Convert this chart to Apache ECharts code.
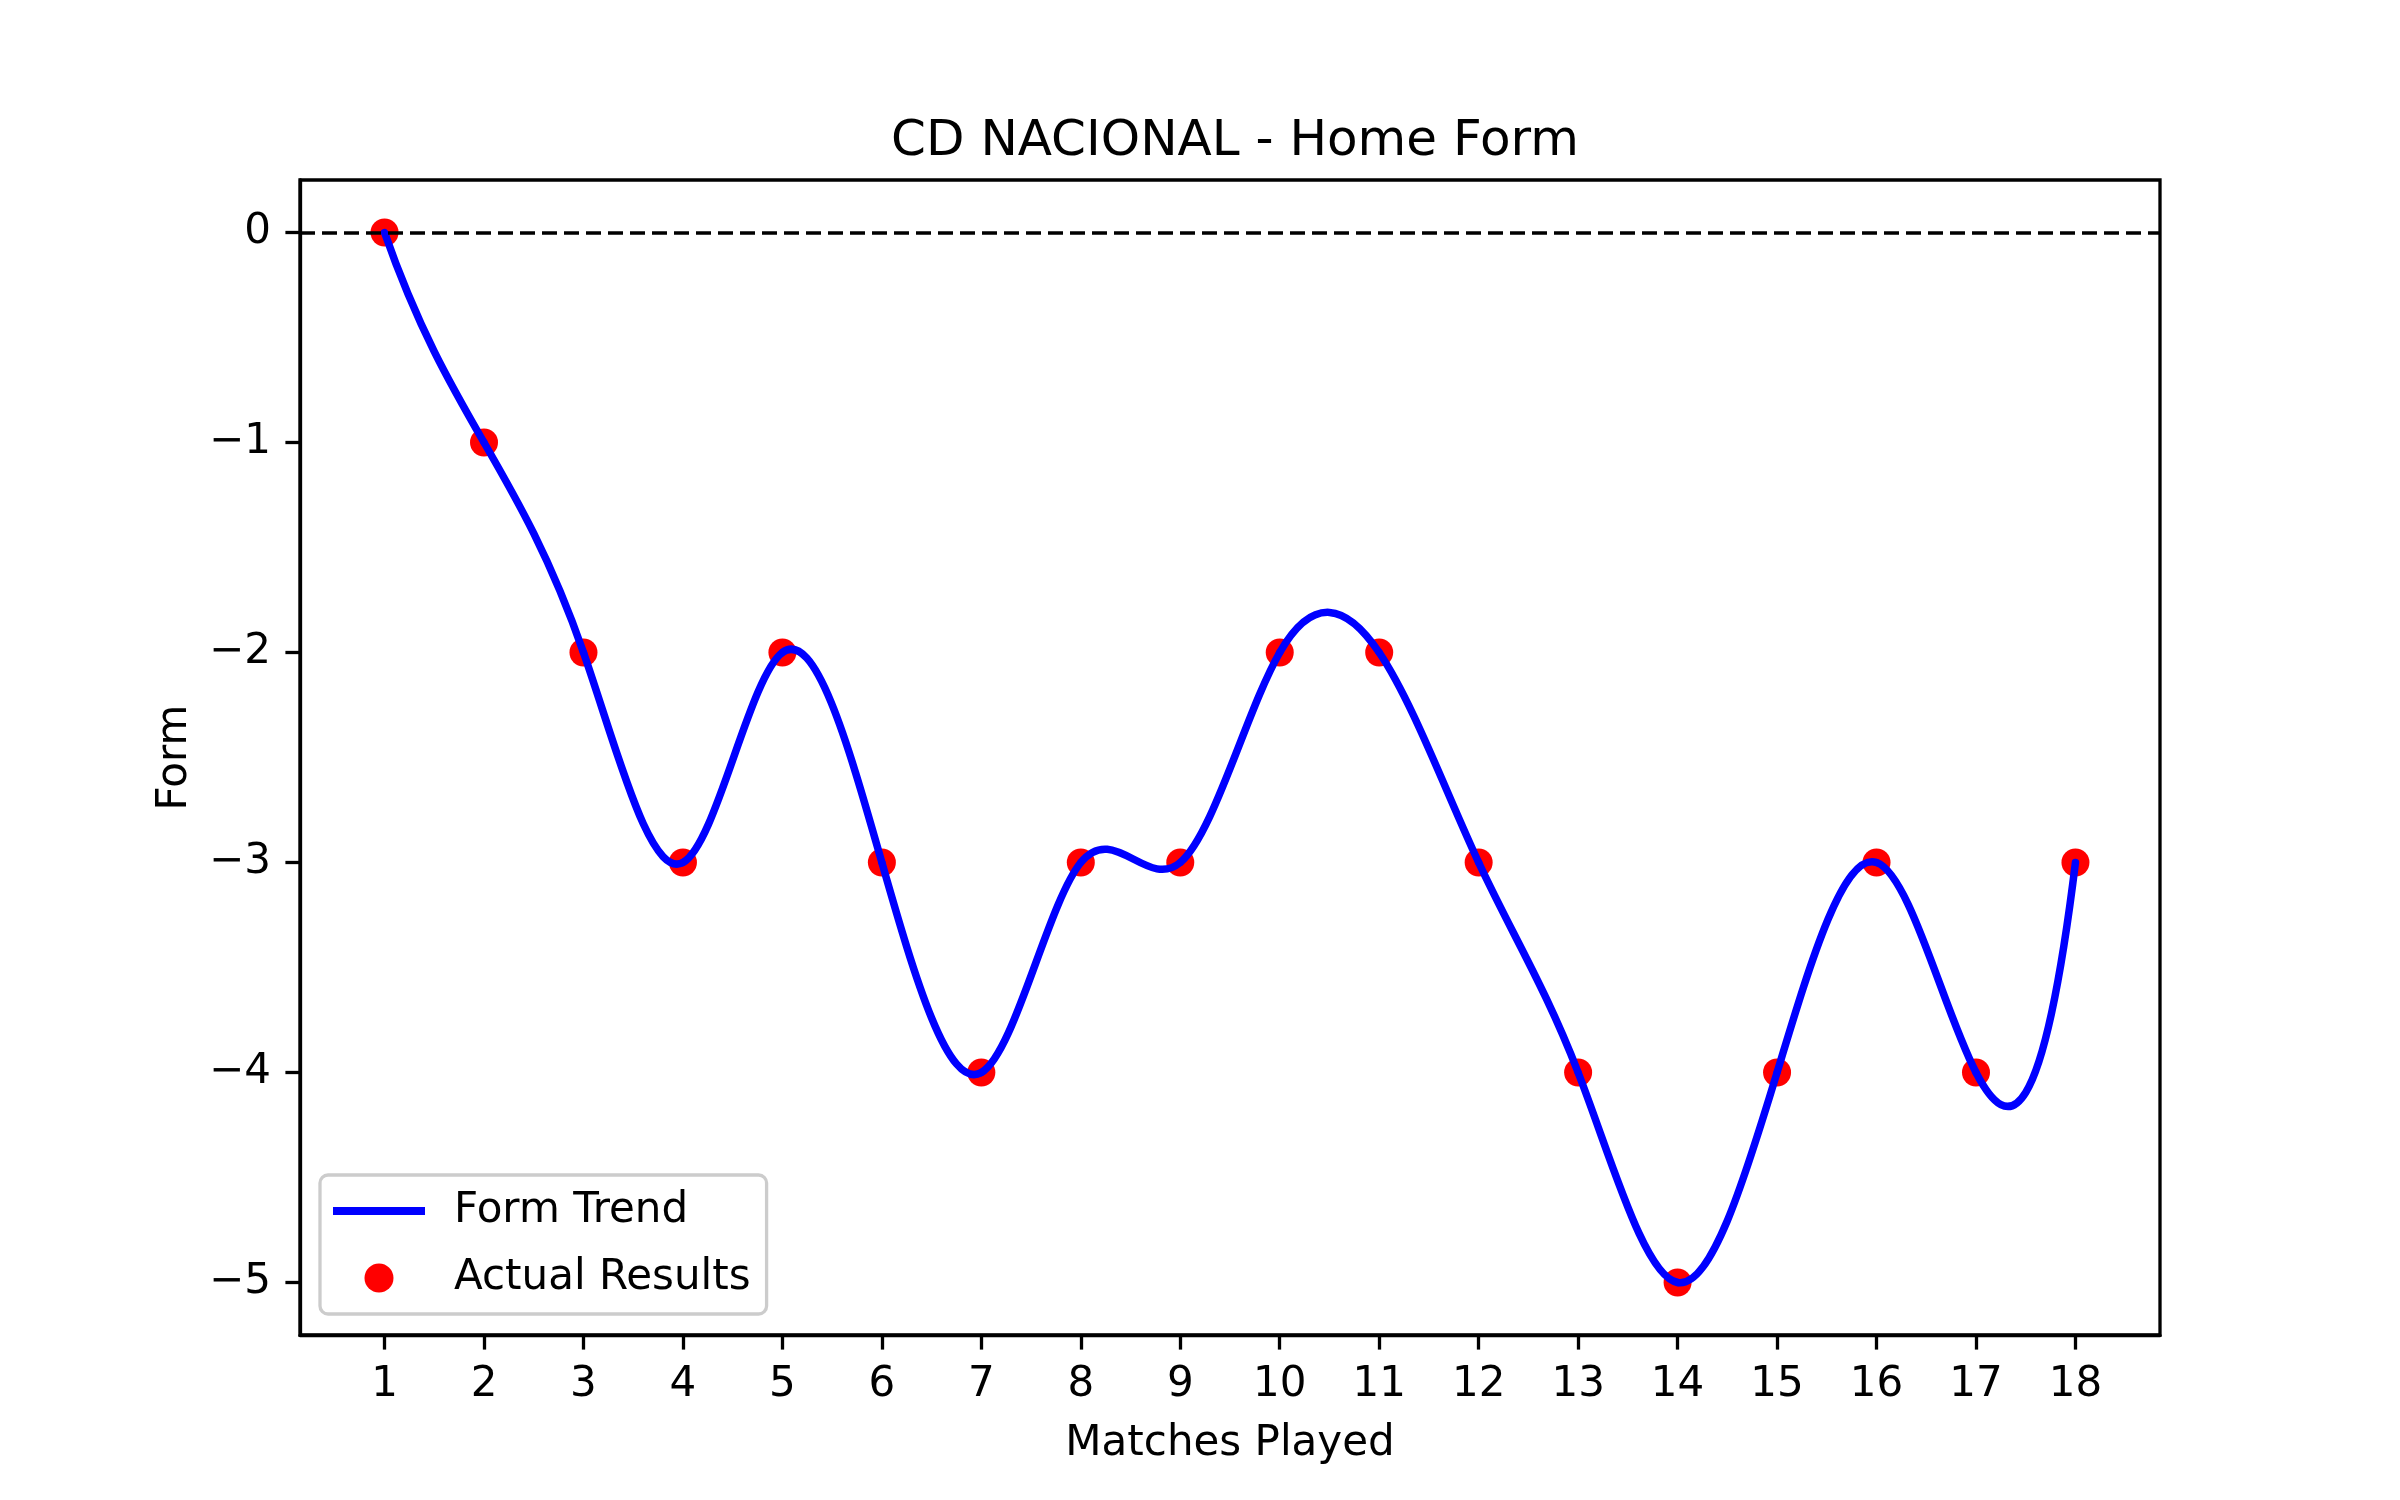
<!DOCTYPE html>
<html>
<head>
<meta charset="utf-8">
<title>CD NACIONAL - Home Form</title>
<script src="https://cdn.jsdelivr.net/npm/echarts@6/dist/echarts.min.js"></script>
<style>
  html, body { margin: 0; padding: 0; background: #fff; }
  #chart { width: 2400px; height: 1500px; }
</style>
</head>
<body>
<div id="chart"></div>
<script>
// matches and form values
var matches = [1, 2, 3, 4, 5, 6, 7, 8, 9, 10, 11, 12, 13, 14, 15, 16, 17, 18]
var formValues = [0, -1, -2, -3, -2, -3, -4, -3, -3, -2, -2, -3, -4, -5, -4, -3, -4, -3]
var xTicks = [1, 2, 3, 4, 5, 6, 7, 8, 9, 10, 11, 12, 13, 14, 15, 16, 17, 18]
var yTicks = [-5, -4, -3, -2, -1, 0]

var font = 'DejaVu Sans'
var points = matches.map(function (m, i) { return [m, formValues[i]] })

// slopes of a not-a-knot cubic spline through the points (the trend line),
// so each piece can be drawn as one bezier segment through the axes
function splineSlopes(xs, ys) {
  var n = xs.length
  var A = []
  var b = []
  for (var r = 0; r < n; r++) {
    A.push(new Array(n).fill(0))
    b.push(0)
  }
  A[0][0] = 1; A[0][1] = -2; A[0][2] = 1
  A[n - 1][n - 3] = 1; A[n - 1][n - 2] = -2; A[n - 1][n - 1] = 1
  for (var i = 1; i < n - 1; i++) {
    var h0 = xs[i] - xs[i - 1]
    var h1 = xs[i + 1] - xs[i]
    A[i][i - 1] = h0
    A[i][i] = 2 * (h0 + h1)
    A[i][i + 1] = h1
    b[i] = 6 * ((ys[i + 1] - ys[i]) / h1 - (ys[i] - ys[i - 1]) / h0)
  }
  // gaussian elimination
  for (var c = 0; c < n; c++) {
    var p = c
    for (var k = c + 1; k < n; k++) {
      if (Math.abs(A[k][c]) > Math.abs(A[p][c])) p = k
    }
    var t = A[c]; A[c] = A[p]; A[p] = t
    var tb = b[c]; b[c] = b[p]; b[p] = tb
    for (var k2 = c + 1; k2 < n; k2++) {
      var f = A[k2][c] / A[c][c]
      if (!f) continue
      for (var j = c; j < n; j++) A[k2][j] -= f * A[c][j]
      b[k2] -= f * b[c]
    }
  }
  var M = new Array(n).fill(0)
  for (var r2 = n - 1; r2 >= 0; r2--) {
    var s = b[r2]
    for (var j2 = r2 + 1; j2 < n; j2++) s -= A[r2][j2] * M[j2]
    M[r2] = s / A[r2][r2]
  }
  var d = []
  for (var q = 0; q < n - 1; q++) {
    var h = xs[q + 1] - xs[q]
    d.push((ys[q + 1] - ys[q]) / h - h * (2 * M[q] + M[q + 1]) / 6)
  }
  var hl = xs[n - 1] - xs[n - 2]
  d.push((ys[n - 1] - ys[n - 2]) / hl + hl * (M[n - 2] + 2 * M[n - 1]) / 6)
  return d
}

var slopes = splineSlopes(matches, formValues)

function renderTrend(params, api) {
  if (params.dataIndex !== 0) return null
  var children = []
  for (var i = 0; i < matches.length - 1; i++) {
    var h = matches[i + 1] - matches[i]
    var p0 = api.coord([matches[i], formValues[i]])
    var c1 = api.coord([matches[i] + h / 3, formValues[i] + slopes[i] * h / 3])
    var c2 = api.coord([matches[i + 1] - h / 3, formValues[i + 1] - slopes[i + 1] * h / 3])
    var p1 = api.coord([matches[i + 1], formValues[i + 1]])
    children.push({
      type: 'bezierCurve',
      shape: { x1: p0[0], y1: p0[1], cpx1: c1[0], cpy1: c1[1], cpx2: c2[0], cpy2: c2[1], x2: p1[0], y2: p1[1] },
      style: { stroke: '#0000ff', lineWidth: 7.5, fill: null, lineCap: 'round' }
    })
  }
  return { type: 'group', children: children }
}

var chart = echarts.init(document.getElementById('chart'))
chart.setOption({
  animation: false,
  backgroundColor: '#fff',
  textStyle: { fontFamily: font, color: '#000' },
  title: {
    text: 'CD NACIONAL - Home Form',
    left: 1230,
    textAlign: 'center',
    top: 112,
    textStyle: { fontFamily: font, fontSize: 50, fontWeight: 'normal', color: '#000' }
  },
  grid: {
    left: 300,
    right: 240,
    top: 180,
    bottom: 165,
    show: true,
    borderColor: '#000',
    borderWidth: 3.3,
    outerBoundsMode: 'none'
  },
  legend: {
    orient: 'vertical',
    left: 320,
    top: 1175,
    padding: [15, 16, 15, 13],
    itemWidth: 92,
    itemHeight: 29,
    itemGap: 25,
    backgroundColor: 'rgba(255,255,255,0.8)',
    borderColor: '#cccccc',
    borderWidth: 3.3,
    borderRadius: 8,
    data: [
      { name: 'Form Trend', icon: 'path://M0,0L92,0L92,8L0,8Z' },
      { name: 'Actual Results', icon: 'circle' }
    ],
    textStyle: { fontFamily: font, fontSize: 42, color: '#000', padding: [4, 0, 0, 24] }
  },
  xAxis: {
    type: 'value',
    min: 0.15,
    max: 18.85,
    name: 'Matches Played',
    nameLocation: 'middle',
    nameGap: 88,
    nameTextStyle: { fontFamily: font, fontSize: 42, color: '#000' },
    axisLine: { show: true, onZero: false, lineStyle: { color: '#000', width: 3.3 } },
    axisTick: { show: true, customValues: xTicks, length: 14.6, lineStyle: { color: '#000', width: 3.3 } },
    axisLabel: { customValues: xTicks, margin: 29, fontFamily: font, fontSize: 42, color: '#000' },
    splitLine: { show: false }
  },
  yAxis: {
    type: 'value',
    min: -5.25,
    max: 0.25,
    name: 'Form',
    nameLocation: 'middle',
    nameGap: 104,
    nameTextStyle: { fontFamily: font, fontSize: 42, color: '#000' },
    axisLine: { show: true, onZero: false, lineStyle: { color: '#000', width: 3.3 } },
    axisTick: { show: true, customValues: yTicks, length: 14.6, lineStyle: { color: '#000', width: 3.3 } },
    axisLabel: {
      customValues: yTicks,
      margin: 29,
      padding: [6, 0, 0, 0],
      fontFamily: font,
      fontSize: 42,
      color: '#000',
      formatter: function (v) { return String(v).replace('-', '\u2212') }
    },
    splitLine: { show: false }
  },
  series: [
    {
      name: 'Actual Results',
      type: 'scatter',
      data: points,
      symbolSize: 28,
      itemStyle: { color: '#ff0000', opacity: 1 },
      z: 2,
      markLine: {
        silent: true,
        symbol: 'none',
        label: { show: false },
        lineStyle: { color: '#000', type: [15, 7], width: 3.5, opacity: 1 },
        emphasis: { disabled: true },
        data: [{ yAxis: 0 }]
      }
    },
    {
      name: 'Form Trend',
      type: 'custom',
      data: points,
      encode: { x: 0, y: 1 },
      renderItem: renderTrend,
      itemStyle: { color: '#0000ff' },
      z: 3
    }
  ]
})
</script>
</body>
</html>
